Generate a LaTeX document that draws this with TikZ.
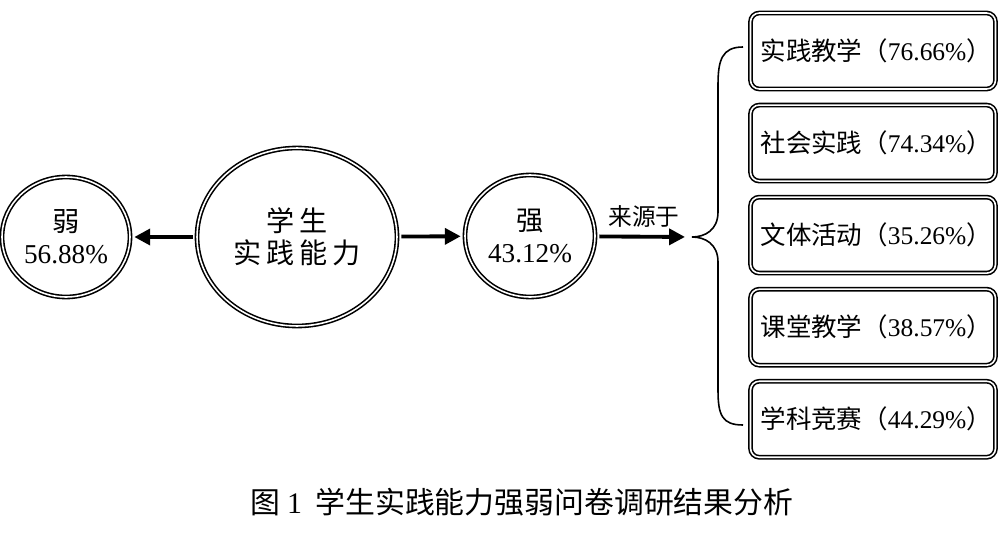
\documentclass[tikz,border=0pt]{standalone}
\usepackage{fontspec}
\setmainfont{Liberation Serif}
\newfontfamily\cjk{Noto Sans CJK SC}
\usetikzlibrary{shapes.geometric, arrows.meta, positioning}

\begin{document}
\begin{tikzpicture}[
    x=0.02cm, y=-0.02cm,
    node distance=0.29cm,
    oval/.style={ellipse, draw, double, line width=0.9pt, double distance=0.9pt,
                 inner sep=0pt, align=center, font=\fontsize{15.5}{18}\selectfont},
    source/.style={rectangle, rounded corners=5pt, draw, double, line width=0.9pt, double distance=0.9pt,
                   text width=4.5cm, inner xsep=0.2cm, minimum height=1.52cm, align=left,
                   font=\fontsize{14.5}{17}\selectfont},
    arrow/.style={-{Triangle[length=9pt,width=9pt]}, line width=2.2pt, shorten <=2pt, shorten >=2pt},
    brace/.style={line width=0.9pt},
    label/.style={font=\cjk\fontsize{13.5}{15}\selectfont}
]
\useasboundingbox (0,0) rectangle (1000,537);

% circles
\node[oval, minimum width=2.56cm, minimum height=2.4cm] (weak) at (66,237) {{\cjk 弱}\\56.88\%};
\node[oval, minimum width=4cm, minimum height=3.56cm, font=\fontsize{16}{18}\selectfont] (ability) at (297,237) {{\cjk 学\,生}\\{\cjk 实\,践\,能\,力}};
\node[oval, minimum width=2.6cm, minimum height=2.44cm] (strong) at (530,236) {{\cjk 强}\\43.12\%};

% sources
\node[source] (b1) at (873,51) {{\cjk 实践教学（}76.66\%{\cjk ）}};
\node[source, below=of b1] (b2) {{\cjk 社会实践（}74.34\%{\cjk ）}};
\node[source, below=of b2] (b3) {{\cjk 文体活动（}35.26\%{\cjk ）}};
\node[source, below=of b3] (b4) {{\cjk 课堂教学（}38.57\%{\cjk ）}};
\node[source, below=of b4] (b5) {{\cjk 学科竞赛（}44.29\%{\cjk ）}};

\coordinate (tip) at (692,237);
\coordinate (top) at (743,47);
\coordinate (bottom) at (743,425);

\draw[arrow] (ability) -- (weak);
\draw[arrow] (ability) -- (strong);
\draw[arrow, shorten >=4pt] (strong) -- node[label, above=1pt] {来源于} (tip);

\draw[brace] (top) .. controls (722,47) and (718,60) .. (718,85) -- (718,212)
    .. controls (718,230) and (705,237) .. (tip)
    .. controls (705,237) and (718,244) .. (718,262) -- (718,390)
    .. controls (718,415) and (722,425) .. (bottom);

\node[font=\cjk\fontsize{17}{19}\selectfont] (caption) at (522,502) {图\ {\fontspec{Liberation Serif}1}\ \ 学生实践能力强弱问卷调研结果分析};

\end{tikzpicture}
\end{document}
